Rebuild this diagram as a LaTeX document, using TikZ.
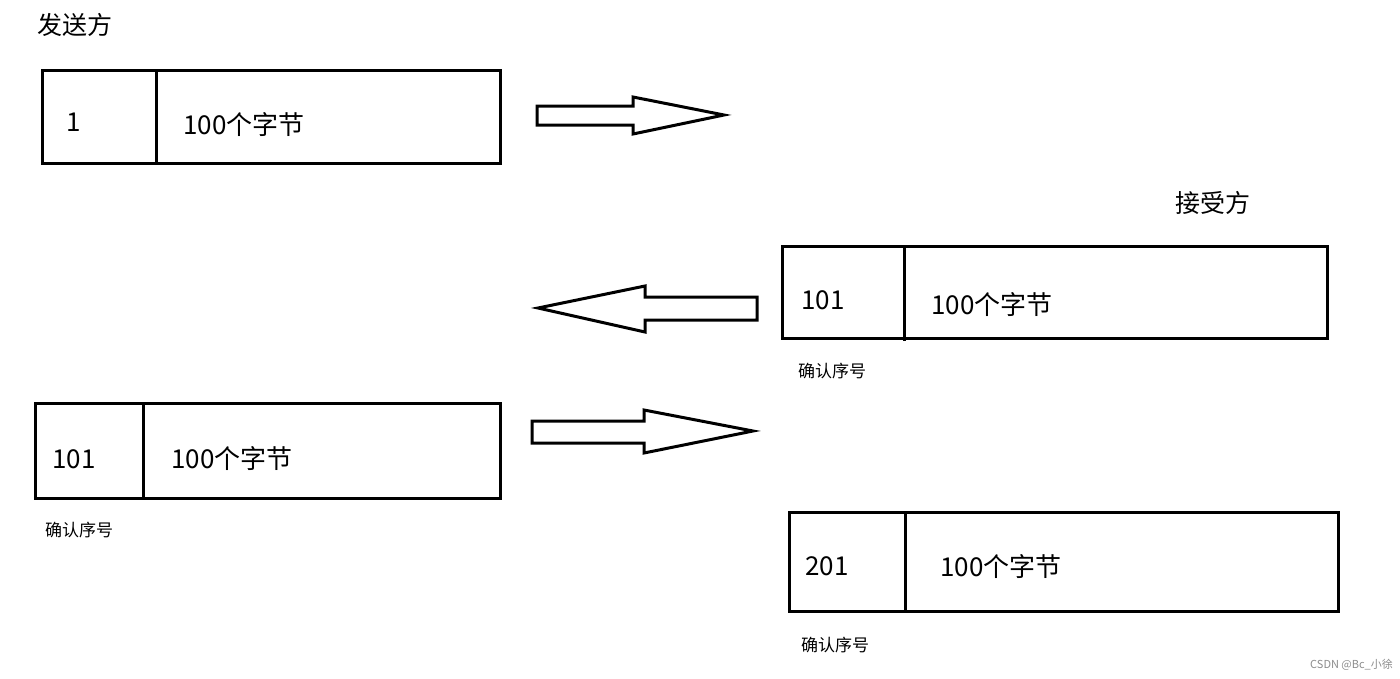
\documentclass[tikz,border=0pt]{standalone}
\usepackage{fontspec}
\setmainfont{Noto Sans CJK SC}
\begin{document}
\begin{tikzpicture}[x=1pt,y=-1pt,
  seg/.style={draw=black,line width=3pt,inner sep=0pt,anchor=north west},
  divline/.style={line width=3pt},
  big/.style={font=\fontsize{26}{30}\selectfont,inner sep=0pt,anchor=west},
  title/.style={font=\fontsize{25}{29}\selectfont,inner sep=0pt,anchor=west},
  small/.style={font=\fontsize{17}{20}\selectfont,inner sep=0pt,anchor=west},
  fat/.style={draw=black,line width=3pt,line join=miter,fill=white},
  wm/.style={font=\fontsize{11}{13}\selectfont,inner sep=0pt,anchor=west,text=black!45}]
\useasboundingbox[fill=white] (0,0) rectangle (1400,678);
% boxes
\node[seg,minimum width=458pt,minimum height=93pt] (b1) at (41,69) {};
\node[seg,minimum width=545pt,minimum height=92pt] (b2) at (781,245) {};
\node[seg,minimum width=465pt,minimum height=95pt] (b3) at (34,402) {};
\node[seg,minimum width=549pt,minimum height=99pt] (b4) at (788,511) {};
% dividers
\coordinate (d1t) at (156,69);  \coordinate (d1b) at (156,162);
\coordinate (d2t) at (904,245); \coordinate (d2b) at (904,341);
\coordinate (d3t) at (143,402); \coordinate (d3b) at (143,497);
\coordinate (d4t) at (905,511); \coordinate (d4b) at (905,610);
\draw[divline] (d1t) -- (d1b);
\draw[divline] (d2t) -- (d2b);
\draw[divline] (d3t) -- (d3b);
\draw[divline] (d4t) -- (d4b);
% titles
\node[title] (send) at (37,25) {发送方};
\node[title] (recv) at (1175,203) {接受方};
% box texts
\node[big] (n1) at (66,122) {1};
\node[big] (t1) at (183,125) {100个字节};
\node[big] (n2) at (801,300) {101};
\node[big] (t2) at (931,305) {100个字节};
\node[big] (n3) at (52,459) {101};
\node[big] (t3) at (171,459) {100个字节};
\node[big] (n4) at (805,566) {201};
\node[big] (t4) at (940,567) {100个字节};
% captions
\node[small] (c2) at (798,371) {确认序号};
\node[small] (c3) at (45,530) {确认序号};
\node[small] (c4) at (801,645) {确认序号};
% block arrows
\draw[fat] (537,106) -- (633,106) -- (633,97) -- (724,115) -- (633,134) -- (633,125) -- (537,125) -- cycle;
\draw[fat] (757,297) -- (645,297) -- (645,286) -- (538,308) -- (645,332) -- (645,320) -- (757,320) -- cycle;
\draw[fat] (532,421) -- (644,421) -- (644,410) -- (753,431) -- (644,453) -- (644,443) -- (532,443) -- cycle;
% watermark
\node[wm] (wmk) at (1310,665) {CSDN @Bc\_小徐};
\end{tikzpicture}
\end{document}
